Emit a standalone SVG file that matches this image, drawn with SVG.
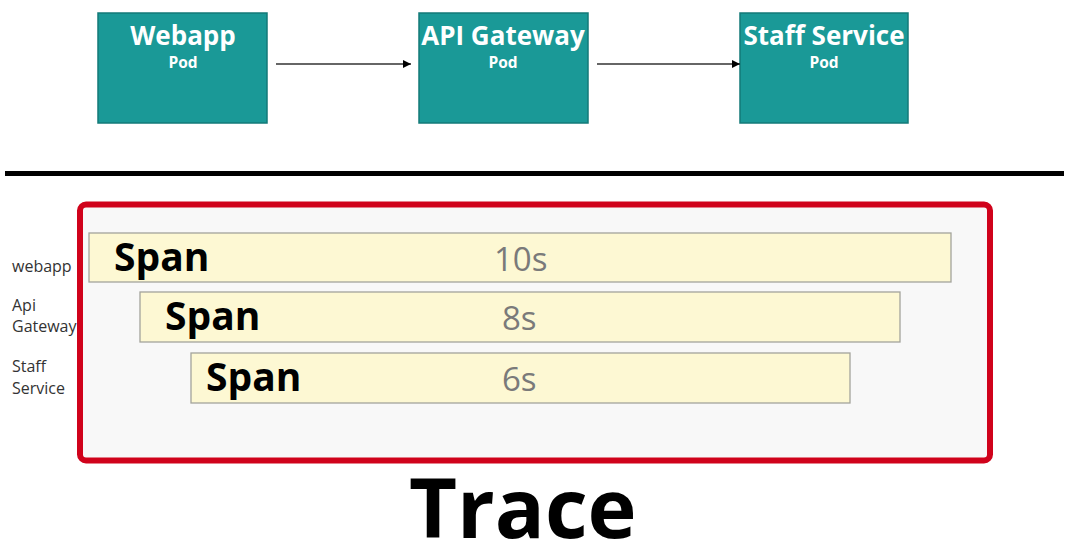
<svg xmlns="http://www.w3.org/2000/svg" width="1071" height="551" viewBox="0 0 1071 551">
<defs>
<style>
.pod{fill:#1a9997;stroke:#137a78;stroke-width:1.5}
.title{font-family:"Open Sans","Noto Sans",sans-serif;font-weight:bold;fill:#ffffff;font-size:26px;text-anchor:middle}
.sub{font-family:"Open Sans","Noto Sans",sans-serif;font-weight:bold;fill:#ffffff;font-size:15.5px;text-anchor:middle}
.conn{stroke:#333333;stroke-width:1.3;fill:none;marker-end:url(#arr)}
.bar{fill:#fdf8d3;stroke:#a3a39b;stroke-width:1.3}
.span{font-family:"Open Sans","Noto Sans",sans-serif;font-weight:bold;fill:#000000;font-size:39px}
.dur{font-family:"Open Sans","Noto Sans",sans-serif;fill:#7a7a7a;font-size:33px}
.lbl{font-family:"Open Sans","Noto Sans",sans-serif;fill:#333333;font-size:16px}
</style>
<marker id="arr" viewBox="0 0 10 10" refX="10" refY="5" markerWidth="8" markerHeight="8" markerUnits="userSpaceOnUse" orient="auto">
<path d="M0,0 L10,5 L0,10 z" fill="#000000"/>
</marker>
</defs>
<rect width="1071" height="551" fill="#ffffff"/>
<g id="node-webapp">
<rect class="pod" x="98" y="13" width="169" height="110"/>
<text class="title" x="183" y="45">Webapp</text>
<text class="sub" x="183" y="68">Pod</text>
</g>
<g id="node-api-gateway">
<rect class="pod" x="419" y="13" width="169" height="110"/>
<text class="title" x="503" y="45">API Gateway</text>
<text class="sub" x="503" y="68">Pod</text>
</g>
<g id="node-staff-service">
<rect class="pod" x="740" y="13" width="168" height="110"/>
<text class="title" x="824" y="45">Staff Service</text>
<text class="sub" x="824" y="68">Pod</text>
</g>
<g id="connectors">
<line class="conn" x1="276" y1="64" x2="411" y2="64"/>
<line class="conn" x1="597" y1="64" x2="740" y2="64"/>
</g>
<line x1="5" y1="173.5" x2="1064" y2="173.5" stroke="#000000" stroke-width="5"/>
<g id="trace">
<rect x="80" y="204.5" width="910" height="256" rx="6" fill="#f8f8f8" stroke="#d0021b" stroke-width="6"/>
<g id="span-webapp">
<rect class="bar" x="89" y="233" width="862" height="49"/>
<text class="span" x="114" y="271">Span</text>
<text class="dur" x="494" y="271">10s</text>
</g>
<g id="span-api">
<rect class="bar" x="140" y="292" width="760" height="50"/>
<text class="span" x="165" y="330">Span</text>
<text class="dur" x="502" y="330">8s</text>
</g>
<g id="span-staff">
<rect class="bar" x="191" y="353" width="659" height="50"/>
<text class="span" x="206" y="391">Span</text>
<text class="dur" x="502" y="391">6s</text>
</g>
</g>
<text class="lbl" x="12" y="272">webapp</text>
<text class="lbl" x="12" y="311">Api</text>
<text class="lbl" x="12" y="332">Gateway</text>
<text class="lbl" x="12" y="372">Staff</text>
<text class="lbl" x="12" y="394">Service</text>
<text x="409" y="538" font-family="'Open Sans','Noto Sans',sans-serif" font-weight="bold" font-size="83" fill="#000000">Trace</text>
</svg>
